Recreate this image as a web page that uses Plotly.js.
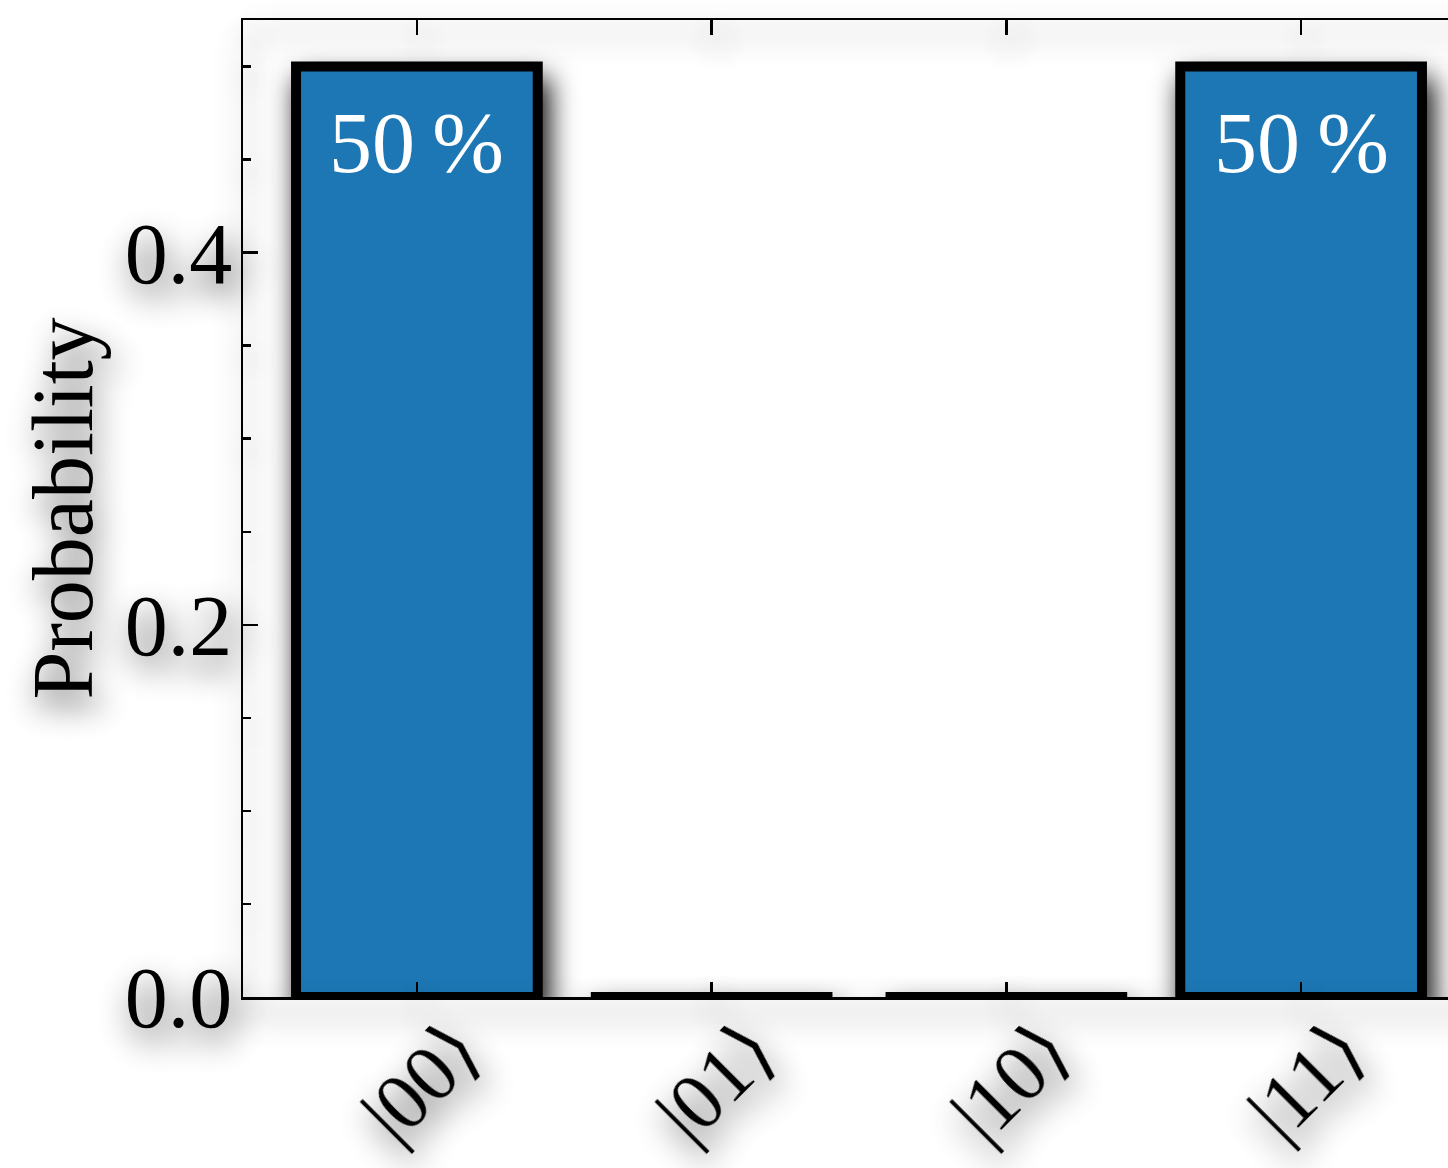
<!DOCTYPE html>
<html>
<head>
<meta charset="utf-8">
<script src="https://cdn.plot.ly/plotly-3.0.1.min.js"></script>
<style>
  html, body { margin: 0; padding: 0; background: #ffffff; overflow: hidden; }
  #chart { width: 1500px; height: 1168px; }
</style>
</head>
<body>
<div id="chart"></div>
<script>
// Measurement outcomes of a two-qubit Bell state
const states = ['|00⟩', '|01⟩', '|10⟩', '|11⟩'];
const probabilities = [0.5, 0, 0, 0.5];
const yTickValues = [0, 0.2, 0.4];
const yTickLabels = ['0.0', '0.2', '0.4'];

const BAR_WIDTH = 0.82;
const FONT = '"Liberation Serif", "DejaVu Serif", serif';
const positions = states.map((_, i) => i);

// Bars (blue with heavy black outline)
const bars = {
  type: 'bar',
  x: positions,
  y: probabilities,
  width: BAR_WIDTH,
  marker: { color: '#1f77b4', line: { color: '#000000', width: 10 } },
  hoverinfo: 'skip',
  showlegend: false
};

// Zero-height outcomes still show their flat outline
const flatX = [], flatY = [];
probabilities.forEach((p, i) => {
  if (p === 0) {
    flatX.push(i - BAR_WIDTH / 2, i + BAR_WIDTH / 2, null);
    flatY.push(p, p, null);
  }
});
const flatBars = {
  type: 'scatter',
  mode: 'lines',
  x: flatX,
  y: flatY,
  line: { color: '#000000', width: 10 },
  hoverinfo: 'skip',
  showlegend: false,
  cliponaxis: false
};

// Percentage labels inside the non-empty bars
const annotations = [];
probabilities.forEach((p, i) => {
  if (p > 0) {
    annotations.push({
      x: i, y: p, xref: 'x', yref: 'y',
      text: Math.round(p * 100) + '\u2009%',
      showarrow: false,
      yanchor: 'top',
      yshift: -26,
      font: { family: FONT, size: 86, color: '#ffffff' }
    });
  }
});

const layout = {
  width: 1500,
  height: 1168,
  margin: { l: 243, r: 25, t: 20, b: 171 },
  paper_bgcolor: '#ffffff',
  plot_bgcolor: '#ffffff',
  font: { family: FONT, size: 86, color: '#000000' },
  bargap: 0,
  xaxis: {
    range: [-0.59, 3.59],
    tickmode: 'array',
    tickvals: positions,
    ticktext: states,
    tickangle: -45,
    ticks: 'inside',
    ticklen: 15,
    tickwidth: 2.5,
    tickcolor: '#000000',
    showline: true,
    linecolor: '#000000',
    linewidth: 2.5,
    mirror: 'ticks',
    showgrid: false,
    zeroline: false,
    ticklabelshift: 40,
    ticklabelstandoff: -28,
    tickfont: { family: FONT, size: 80 }
  },
  yaxis: {
    range: [0, 0.525],
    tickmode: 'array',
    tickvals: yTickValues,
    ticktext: yTickLabels,
    ticks: 'inside',
    ticklen: 15,
    tickwidth: 2.5,
    tickcolor: '#000000',
    minor: { dtick: 0.05, ticks: 'inside', ticklen: 8, tickwidth: 2.5, tickcolor: '#000000', showgrid: false },
    showline: true,
    linecolor: '#000000',
    linewidth: 2.5,
    mirror: 'ticks',
    showgrid: false,
    zeroline: false,
    ticklabelstandoff: -9,
    tickfont: { family: FONT, size: 86 },
    title: { text: 'Probability', font: { family: FONT, size: 86 }, standoff: 4 }
  },
  annotations: annotations
};

Plotly.newPlot('chart', [bars, flatBars], layout, { displayModeBar: false, staticPlot: true }).then(gd => {
  // Soft drop shadows under the drawn marks and axes
  const svg = gd.querySelector('svg.main-svg');
  const ns = 'http://www.w3.org/2000/svg';
  let defs = svg.querySelector('defs');
  if (!defs) { defs = document.createElementNS(ns, 'defs'); svg.insertBefore(defs, svg.firstChild); }
  function addShadow(id, blur, dx, dy, strength) {
    const filter = document.createElementNS(ns, 'filter');
    filter.setAttribute('id', id);
    filter.setAttribute('x', '-40%');
    filter.setAttribute('y', '-40%');
    filter.setAttribute('width', '180%');
    filter.setAttribute('height', '180%');
    filter.innerHTML =
      '<feGaussianBlur in="SourceAlpha" stdDeviation="' + blur + '"/>' +
      '<feOffset dx="' + dx + '" dy="' + dy + '" result="blurred"/>' +
      '<feComponentTransfer><feFuncA type="linear" slope="' + strength + '"/></feComponentTransfer>' +
      '<feMerge><feMergeNode/><feMergeNode in="SourceGraphic"/></feMerge>';
    defs.appendChild(filter);
  }
  addShadow('bar-shadow', 14, 6, 16, 1.0);
  addShadow('soft-shadow', 16, 5, 14, 0.75);
  const apply = (sels, id) => sels.forEach(sel => {
    gd.querySelectorAll(sel).forEach(el => el.setAttribute('filter', 'url(#' + id + ')'));
  });
  apply(['.barlayer', '.scatterlayer'], 'bar-shadow');
  apply(['.xaxislayer-above', '.yaxislayer-above', '.xlines-above', '.ylines-above', '.g-ytitle'], 'soft-shadow');
});
</script>
</body>
</html>
